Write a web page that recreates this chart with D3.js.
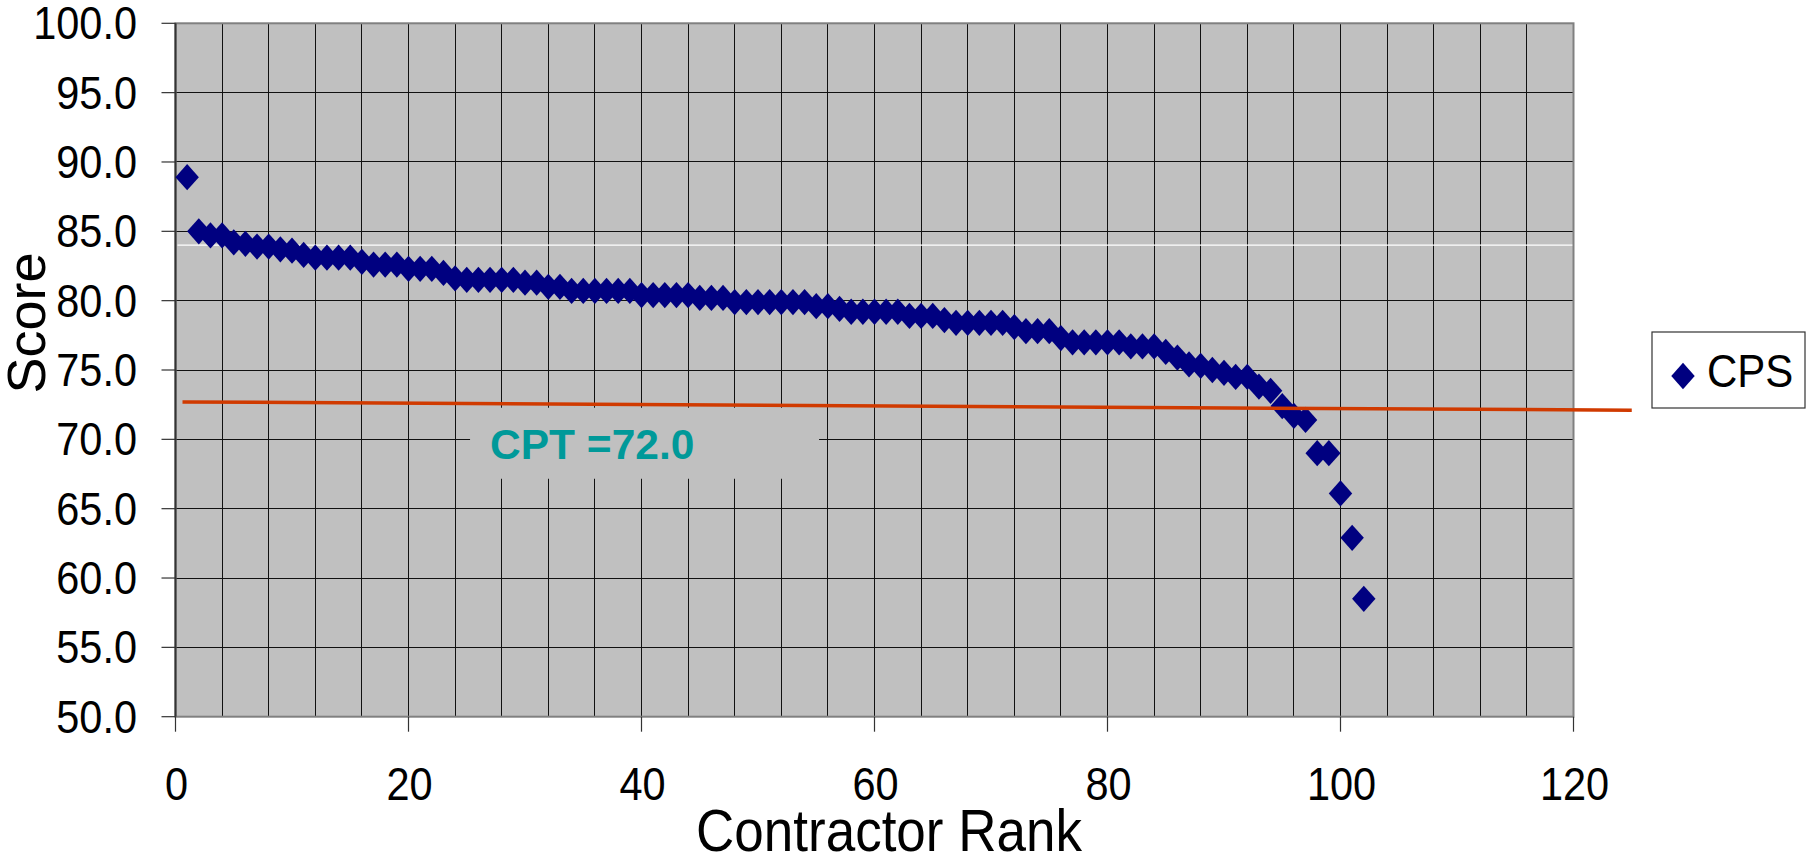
<!DOCTYPE html>
<html>
<head>
<meta charset="utf-8">
<script src="https://cdn.jsdelivr.net/npm/d3@7"></script>
<style>
body{margin:0;background:#fff;}
text{font-family:"Liberation Sans",Arial,sans-serif;}
</style>
</head>
<body>
<script>
//CPS score of each contractor, in rank order (rank = position + 1)
var scores = [88.9,85.0,84.7,84.7,84.2,84.1,83.9,83.9,83.7,83.6,
    83.3,83.1,83.1,83.1,83.1,82.8,82.6,82.6,82.6,82.3,
    82.3,82.3,82.0,81.6,81.5,81.5,81.5,81.5,81.5,81.3,
    81.3,81.0,81.0,80.7,80.7,80.7,80.7,80.7,80.7,80.4,
    80.4,80.4,80.4,80.4,80.2,80.2,80.2,79.9,79.9,79.9,
    79.9,79.9,79.9,79.9,79.6,79.6,79.4,79.2,79.2,79.2,
    79.2,79.2,78.9,78.9,78.9,78.6,78.4,78.4,78.4,78.4,
    78.4,78.1,77.8,77.8,77.8,77.3,77.0,77.0,77.0,77.0,
    77.0,76.7,76.7,76.7,76.3,75.9,75.4,75.3,75.0,74.8,
    74.5,74.5,73.8,73.5,72.4,71.7,71.4,69.0,69.0,66.1,
    62.9,58.5];

//axis ticks
var yTicks = [50,55,60,65,70,75,80,85,90,95,100];
var xTicks = [0,20,40,60,80,100,120];

//CPT threshold line (drawn slightly sloped in the original) and its label
var cptLine = [[0.6,72.7],[125,72.1]];
var cptText = "CPT =72.0";
var cptLabelPos = [27.0,68.6];

//white reference line
var whiteLineValue = 84.0;

var seriesName = "CPS";

window.onload = drawChart();

function drawChart(){

    var width = 1807,
        height = 858;

    var left = 175.5, right = 1573.5, top = 23.3, bottom = 716.7;

    var svg = d3.select('body')
        .append('svg')
        .attr('width', width)
        .attr('height', height);

    var x = d3.scaleLinear().domain([0,120]).range([left,right]);
    var y = d3.scaleLinear().domain([50,100]).range([bottom,top]);

    //plot background
    svg.append('rect')
        .attr('x', left).attr('y', top)
        .attr('width', right-left).attr('height', bottom-top)
        .attr('fill', '#c0c0c0');

    //gridlines
    var grid = svg.append('g').attr('shape-rendering', 'crispEdges');
    grid.selectAll('.hgrid')
        .data(yTicks)
        .enter()
        .append('line')
        .attr('x1', left).attr('x2', right)
        .attr('y1', function(d){ return y(d); })
        .attr('y2', function(d){ return y(d); })
        .attr('stroke', '#111').attr('stroke-width', 1);
    grid.selectAll('.vgrid')
        .data(d3.range(4,120,4))
        .enter()
        .append('line')
        .attr('y1', top).attr('y2', bottom)
        .attr('x1', function(d){ return x(d); })
        .attr('x2', function(d){ return x(d); })
        .attr('stroke', '#111').attr('stroke-width', 1);

    //white line
    svg.append('line')
        .attr('x1', left+2).attr('x2', right)
        .attr('y1', y(whiteLineValue)).attr('y2', y(whiteLineValue))
        .attr('stroke', '#fff').attr('stroke-width', 1.2);

    //CPT label box covers the grid
    var lbl = svg.append('g');
    var lx = x(cptLabelPos[0]), ly = y(cptLabelPos[1]);
    lbl.append('rect')
        .attr('x', lx-20).attr('y', ly-51)
        .attr('width', 349).attr('height', 71)
        .attr('fill', '#c0c0c0');
    lbl.append('text')
        .attr('x', lx).attr('y', ly)
        .attr('font-size', 42.5).attr('font-weight', 'bold')
        .attr('fill', '#009999')
        .text(cptText);

    //plot border
    svg.append('rect')
        .attr('x', left).attr('y', top)
        .attr('width', right-left).attr('height', bottom-top)
        .attr('fill', 'none').attr('stroke', '#808080').attr('stroke-width', 2);
    svg.append('line')
        .attr('x1', left).attr('x2', left).attr('y1', top).attr('y2', bottom)
        .attr('stroke', '#333').attr('stroke-width', 2);

    //points, diamonds a bit taller than wide like the original
    var diamond = d3.symbol().type(d3.symbolSquare).size(275);
    svg.selectAll('.pt')
        .data(scores)
        .enter()
        .append('path')
        .attr('d', diamond)
        .attr('transform', function(d,i){
            return 'translate(' + x(i+1) + ',' + y(d) + ') scale(1,1.12) rotate(45)';
        })
        .attr('fill', '#000080');

    //CPT line
    svg.append('path')
        .datum(cptLine)
        .attr('d', d3.line()
            .x(function(d){ return x(d[0]); })
            .y(function(d){ return y(d[1]); }))
        .attr('stroke', '#d03a00').attr('stroke-width', 3.5).attr('fill', 'none');

    //ticks
    svg.selectAll('.ytick')
        .data(yTicks)
        .enter()
        .append('line')
        .attr('x1', left-14).attr('x2', left)
        .attr('y1', function(d){ return y(d); })
        .attr('y2', function(d){ return y(d); })
        .attr('stroke', '#333').attr('stroke-width', 1.2);
    svg.selectAll('.xtick')
        .data(xTicks)
        .enter()
        .append('line')
        .attr('y1', bottom).attr('y2', bottom+15)
        .attr('x1', function(d){ return x(d); })
        .attr('x2', function(d){ return x(d); })
        .attr('stroke', '#333').attr('stroke-width', 1.2);

    //tick labels, stretched a little vertically like the original
    svg.selectAll('.ylab')
        .data(yTicks)
        .enter()
        .append('text')
        .attr('transform', function(d){
            return 'translate(137,' + (y(d)+16) + ') scale(1,1.1)';
        })
        .attr('text-anchor', 'end')
        .attr('font-size', 41.5)
        .text(function(d){ return d3.format('.1f')(d); });
    svg.selectAll('.xlab')
        .data(xTicks)
        .enter()
        .append('text')
        .attr('transform', function(d){
            return 'translate(' + (x(d)+1) + ',800) scale(1,1.1)';
        })
        .attr('text-anchor', 'middle')
        .attr('font-size', 41.5)
        .text(function(d){ return d; });

    //axis titles
    svg.append('text')
        .attr('transform', 'translate(889,851) scale(1,1.1)')
        .attr('text-anchor', 'middle')
        .attr('font-size', 53)
        .text('Contractor Rank');
    svg.append('text')
        .attr('transform', 'translate(45,323) rotate(-90)')
        .attr('text-anchor', 'middle')
        .attr('font-size', 54)
        .text('Score');

    //legend
    var legend = svg.append('g');
    legend.append('rect')
        .attr('x', 1652).attr('y', 332)
        .attr('width', 153).attr('height', 76)
        .attr('fill', '#fff').attr('stroke', '#333').attr('stroke-width', 1.2);
    legend.append('path')
        .attr('d', diamond)
        .attr('transform', 'translate(1683,376) scale(1,1.12) rotate(45)')
        .attr('fill', '#000080');
    legend.append('text')
        .attr('transform', 'translate(1707,387) scale(1,1.12)')
        .attr('font-size', 42)
        .text(seriesName);
};
</script>
</body>
</html>
